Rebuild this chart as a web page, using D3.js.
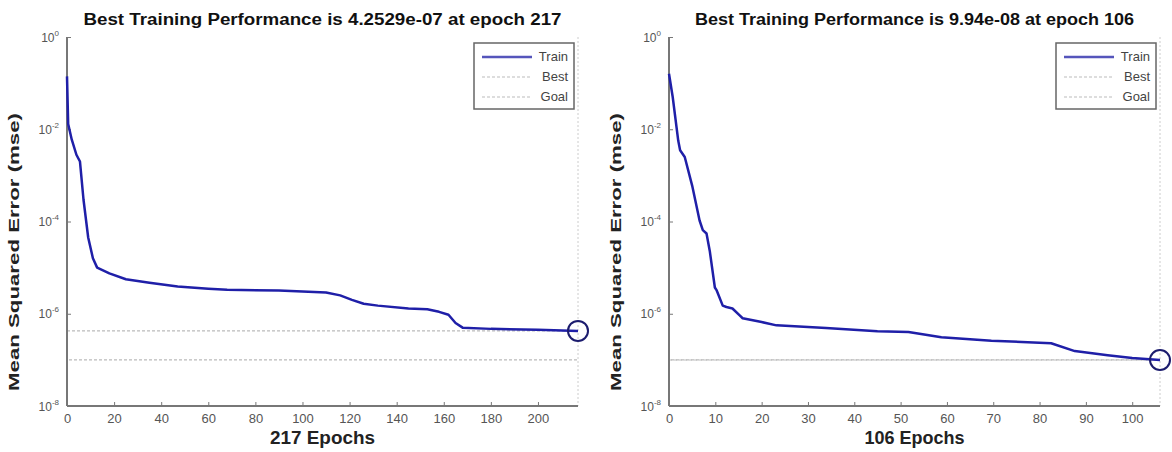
<!DOCTYPE html>
<html>
<head>
<meta charset="utf-8">
<script src="https://cdn.jsdelivr.net/npm/d3@7/dist/d3.min.js"></script>
<style>
  body { margin: 0; background: #fff; }
  svg { display: block; font-family: "Liberation Sans", Arial, sans-serif; }
</style>
</head>
<body>
<svg width="1172" height="452"></svg>
<script>
// values: [epoch, mse]
var trainA = [[0, 0.14], [0.5, 1.3e-2], [2, 6e-3], [4, 2.8e-3], [5.5, 2e-3], [7, 3e-4], [9, 4.5e-5],
  [11, 1.6e-5], [12.8, 1e-5], [18, 7.5e-6], [25, 5.6e-6], [35, 4.7e-6], [47, 3.9e-6], [60, 3.5e-6],
  [68, 3.3e-6], [90, 3.2e-6], [110, 2.9e-6], [116, 2.5e-6], [121, 2e-6], [126, 1.65e-6], [132, 1.5e-6],
  [145, 1.3e-6], [153, 1.25e-6], [158, 1.1e-6], [162, 9.5e-7], [165, 6.3e-7], [168, 5e-7],
  [180, 4.7e-7], [200, 4.5e-7], [217, 4.2529e-7]];
var trainB = [[0, 0.16], [0.8, 5e-2], [2, 5.6e-3], [2.4, 3.5e-3], [3.4, 2.5e-3], [5, 6e-4], [6.6, 1.05e-4],
  [7.3, 6.5e-5], [8.1, 5.5e-5], [8.8, 2.3e-5], [9.9, 3.7e-6], [10.3, 3.2e-6], [11.6, 1.5e-6],
  [12.4, 1.4e-6], [13.7, 1.3e-6], [15.2, 9.3e-7], [15.9, 8e-7], [20, 6.6e-7], [23.2, 5.6e-7],
  [33.9, 4.9e-7], [45, 4.2e-7], [51.7, 4e-7], [58.8, 3.1e-7], [69.6, 2.6e-7], [82.5, 2.3e-7],
  [87.6, 1.55e-7], [94.7, 1.26e-7], [100, 1.1e-7], [106, 9.94e-8]];

var epochs = [217, 106];
var bestPerf = [4.2529e-7, 9.94e-8];
var bestPerfText = ["4.2529e-07", "9.94e-08"];
var goal = [1e-7, 1e-7];
var xTicksA = [0, 20, 40, 60, 80, 100, 120, 140, 160, 180, 200];
var xTicksB = [0, 10, 20, 30, 40, 50, 60, 70, 80, 90, 100];
var yTicks = [0, -2, -4, -6, -8];
var legendNames = ["Train", "Best", "Goal"];

var svg = d3.select("svg");

function drawPanel(i, train, xTicks, left, right, titleLen, xlabLen) {
  var top = 37, bottom = 406;
  var x = d3.scaleLinear().domain([0, epochs[i]]).range([left, right]);
  var y = d3.scaleLog().domain([1e-8, 1]).range([bottom, top]);
  var g = svg.append("g");

  // right border, light dotted
  g.append("line")
    .attr("x1", right).attr("x2", right).attr("y1", top).attr("y2", bottom)
    .attr("stroke", "#ccc").attr("stroke-dasharray", "2,2");

  // best and goal lines
  g.append("line")
    .attr("x1", left).attr("x2", right)
    .attr("y1", y(bestPerf[i])).attr("y2", y(bestPerf[i]))
    .attr("stroke", "#bbb").attr("stroke-width", 1.2).attr("stroke-dasharray", "3,2");
  g.append("line")
    .attr("x1", left).attr("x2", right)
    .attr("y1", y(goal[i])).attr("y2", y(goal[i]))
    .attr("stroke", "#bbb").attr("stroke-width", 1.2).attr("stroke-dasharray", "3,2")
    .attr("stroke-dashoffset", 3);

  // axes
  var xAxis = d3.axisBottom(x).tickValues(xTicks).tickSize(-4).tickPadding(8);
  var gx = g.append("g").attr("transform", "translate(0," + bottom + ")").call(xAxis);
  gx.select(".domain").attr("d", "M" + left + ",0H" + right).attr("stroke", "#777").attr("stroke-width", 2);
  gx.selectAll(".tick line").attr("stroke", "#777");
  gx.selectAll("text").attr("fill", "#555").attr("font-size", 13);

  var yAxis = d3.axisLeft(y).tickValues(yTicks.map(function (e) { return Math.pow(10, e); }))
    .tickSize(-4).tickFormat("");
  var gy = g.append("g").attr("transform", "translate(" + left + ",0)").call(yAxis);
  gy.select(".domain").attr("d", "M0," + top + "V" + bottom).attr("stroke", "#777").attr("stroke-width", 2);
  gy.selectAll(".tick line").attr("stroke", "#777");
  gy.selectAll(".tick").each(function (d, k) {
    var t = d3.select(this).append("text")
      .attr("x", -8).attr("y", 4).attr("text-anchor", "end")
      .attr("fill", "#555").attr("font-size", 12);
    t.append("tspan").text("10");
    t.append("tspan").attr("dy", -6).attr("font-size", 8).text(yTicks[k]);
  });

  // train curve
  var line = d3.line().x(function (d) { return x(d[0]); }).y(function (d) { return y(d[1]); });
  g.append("path").datum(train)
    .attr("d", line).attr("fill", "none")
    .attr("stroke", "#1f1fa8").attr("stroke-width", 2.5).attr("stroke-linejoin", "round");

  // best marker
  g.append("circle")
    .attr("cx", x(epochs[i])).attr("cy", y(bestPerf[i])).attr("r", 10)
    .attr("fill", "none").attr("stroke", "#1c1c6e").attr("stroke-width", 2);

  // title and labels
  var cx = (left + right) / 2;
  g.append("text")
    .attr("x", cx - titleLen / 2).attr("y", 25)
    .attr("textLength", titleLen).attr("lengthAdjust", "spacingAndGlyphs")
    .attr("font-weight", "bold").attr("font-size", 16).attr("fill", "#111")
    .text("Best Training Performance is " + bestPerfText[i] + " at epoch " + epochs[i]);
  g.append("text")
    .attr("x", cx - xlabLen / 2).attr("y", 444)
    .attr("textLength", xlabLen).attr("lengthAdjust", "spacingAndGlyphs")
    .attr("font-weight", "bold").attr("font-size", 18).attr("fill", "#222")
    .text(epochs[i] + " Epochs");
  g.append("text")
    .attr("transform", "translate(" + (left - 48) + ",252) rotate(-90)")
    .attr("x", -139).attr("textLength", 278).attr("lengthAdjust", "spacingAndGlyphs")
    .attr("font-weight", "bold").attr("font-size", 15).attr("fill", "#222")
    .text("Mean Squared Error  (mse)");

  // legend
  var lw = 100, lh = 66, lx = right - lw - 4, ly = 43;
  var lg = g.append("g").attr("transform", "translate(" + lx + "," + ly + ")");
  lg.append("rect").attr("width", lw).attr("height", lh)
    .attr("fill", "#fff").attr("stroke", "#666").attr("stroke-width", 1.5);
  legendNames.forEach(function (name, k) {
    var yy = 14 + k * 20;
    lg.append("line").attr("x1", 8).attr("x2", 58).attr("y1", yy).attr("y2", yy)
      .attr("stroke", k === 0 ? "#5555bb" : "#bbb")
      .attr("stroke-width", k === 0 ? 2.5 : 1.2)
      .attr("stroke-dasharray", k === 0 ? null : "3,2");
    lg.append("text").attr("x", lw - 6).attr("y", yy + 4).attr("text-anchor", "end")
      .attr("font-size", 13).attr("fill", "#444").text(name);
  });
}

drawPanel(0, trainA, xTicksA, 67, 578, 478, 105);
drawPanel(1, trainB, xTicksB, 669, 1160, 439, 100);
</script>
</body>
</html>
